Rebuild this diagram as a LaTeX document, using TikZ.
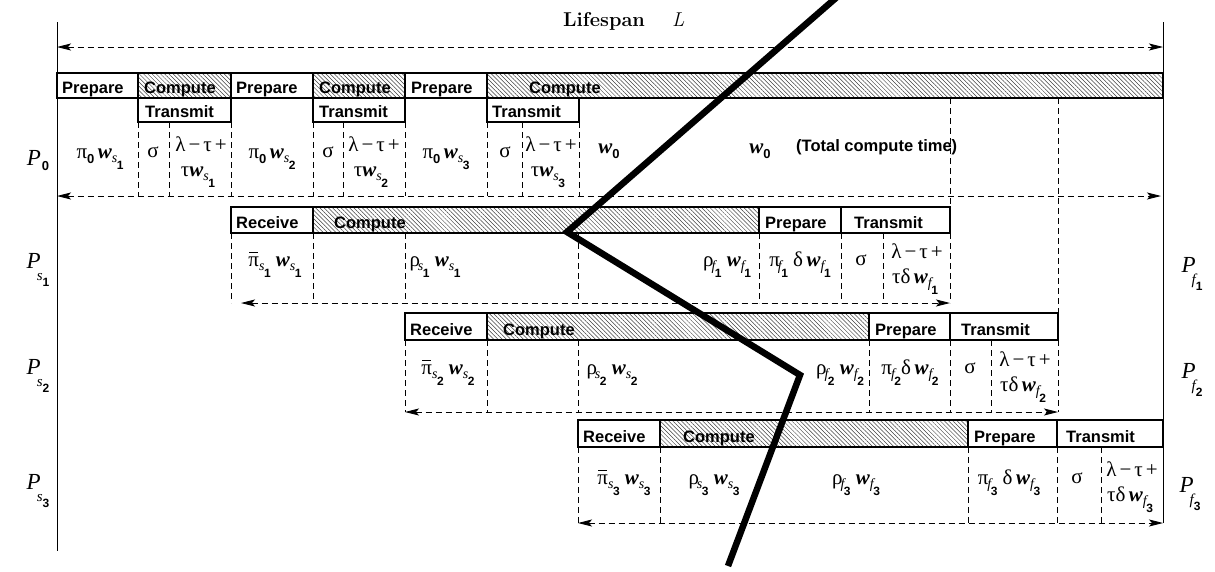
\documentclass[tikz,border=0pt]{standalone}
\usepackage{fontspec}
\usetikzlibrary{arrows.meta,patterns.meta}
\newfontfamily\hv{Liberation Sans}
\newfontfamily\tm{Liberation Serif}
\newcommand\W{{\bfseries\itshape w}}
\newcommand\Sb[2]{\raisebox{-4pt}{\fontsize{14}{14}\selectfont\itshape #1}\kern-0.5pt\raisebox{-11pt}{\fontsize{12}{12}\selectfont\hv\bfseries #2}}
\newcommand\Sz[1]{\raisebox{-5pt}{\fontsize{13}{13}\selectfont\hv\bfseries #1}}
\newcommand\pib{\leavevmode\rlap{\kern1pt\raisebox{13pt}{\rule{9pt}{0.9pt}}}π}
\newcommand\LT{λ\kern3pt−\kern3ptτ\kern3pt+}
\newcommand\PL[2]{\fontsize{23}{23}\selectfont\tm\itshape P\kern-4pt\raisebox{-12pt}{\fontsize{15}{15}\selectfont #1}\raisebox{-18pt}{\fontsize{12}{12}\selectfont\hv\upshape\bfseries #2}}
\tikzset{
  lbl/.style={font=\fontsize{16.5}{18}\selectfont\hv\bfseries, anchor=base west, inner sep=0pt},
  mth/.style={font=\fontsize{21}{23}\selectfont\tm, anchor=base, inner sep=0pt},
  bx/.style={draw, line width=1.8pt},
  hatch/.style={bx, pattern={Lines[angle=-45,distance=3pt,line width=0.5pt]}, pattern color=black!75},
  dsh/.style={dash pattern=on 6pt off 4pt, line width=0.9pt},
  dar/.style={dsh, {Stealth[length=14pt,width=7pt,inset=3pt]}-{Stealth[length=14pt,width=7pt,inset=3pt]}},
  zig/.style={line width=6.5pt, line join=miter},
  plab/.style={anchor=base, inner sep=0pt}
}
\begin{document}
\begin{tikzpicture}[x=1pt,y=-1pt]
\useasboundingbox (0,0) rectangle (1215,571);
% frame lines
\coordinate (Ltop) at (57,22); \coordinate (Lbot) at (57,551);
\coordinate (Rtop) at (1163,22); \coordinate (Rbot) at (1163,523);
\draw[line width=0.8pt] (Ltop) -- (Lbot);
\draw[line width=0.8pt] (Rtop) -- (Rbot);
% lifespan
\node[font=\fontsize{20}{22}\selectfont\bfseries, anchor=base west, inner sep=0pt] (life) at (563,26) {Lifespan};
\node[font=\fontsize{20}{22}\selectfont\itshape, anchor=base west, inner sep=0pt] (Ll) at (672,26) {L};
\coordinate (lsl) at (57,47); \coordinate (lsr) at (1163,47);
\draw[dar] (lsl) -- (lsr);

% ---------- P0 row ----------
\draw[bx] (57,73) rectangle (138,98);
\draw[hatch] (138,73) rectangle (231,98);
\draw[bx] (231,73) rectangle (313,98);
\draw[hatch] (313,73) rectangle (405,98);
\draw[bx] (405,73) rectangle (487,98);
\draw[hatch] (487,73) rectangle (1163,98);
\draw[bx] (138,98) rectangle (231,122);
\draw[bx] (313,98) rectangle (405,122);
\draw[bx] (487,98) rectangle (579,122);
\node[lbl] (p0a) at (62,93.5) {Prepare};
\node[lbl] (c0a) at (144,93.5) {Compute};
\node[lbl] (p0b) at (236,93.5) {Prepare};
\node[lbl] (c0b) at (319,93.5) {Compute};
\node[lbl] (p0c) at (411,93.5) {Prepare};
\node[lbl] (c0c) at (529,93.5) {Compute};
\node[lbl] (t0a) at (145,117.5) {Transmit};
\node[lbl] (t0b) at (319,117.5) {Transmit};
\node[lbl] (t0c) at (492,117.5) {Transmit};
\foreach \x in {138,169,231,313,343,405,487,522,579} \draw[dsh] (\x,122) -- (\x,196);
\draw[dsh] (950,98) -- (950,207);
\draw[dsh] (1058,98) -- (1058,313);
\coordinate (a0l) at (57,196); \coordinate (a0r) at (1161,196);
\draw[dar] (a0l) -- (a0r);
\node[mth] (e01) at (100,158) {π\Sz{0}\,\W\Sb{s}{1}};
\node[mth] (e02) at (153,157) {σ};
\node[mth] (e03) at (201,151) {\LT};
\node[mth] (e04) at (198,176) {τ\W\Sb{s}{1}};
\node[mth] (e05) at (272,158) {π\Sz{0}\,\W\Sb{s}{2}};
\node[mth] (e06) at (328,157) {σ};
\node[mth] (e07) at (374,151) {\LT};
\node[mth] (e08) at (371,176) {τ\W\Sb{s}{2}};
\node[mth] (e09) at (446,158) {π\Sz{0}\,\W\Sb{s}{3}};
\node[mth] (e10) at (505,157) {σ};
\node[mth] (e11) at (551,151) {\LT};
\node[mth] (e12) at (548,176) {τ\W\Sb{s}{3}};
\node[mth] (e13) at (609,153) {\W\Sz{0}};
\node[mth] (e14) at (760,153) {\W\Sz{0}};
\node[lbl] (tot) at (796,151) {(Total compute time)};
\node[plab] (P0) at (38,165) {\fontsize{23}{23}\selectfont\tm\itshape P\kern1pt\raisebox{-5pt}{\fontsize{13}{13}\selectfont\hv\upshape\bfseries 0}};

% ---------- Ps1 row ----------
\draw[bx] (231,207) rectangle (313,233);
\draw[hatch] (313,207) rectangle (759,233);
\draw[bx] (759,207) rectangle (841,233);
\draw[bx] (841,207) rectangle (950,233);
\node[lbl] (r1) at (236,228.5) {Receive};
\node[lbl] (c1) at (334,228.5) {Compute};
\node[lbl] (p1) at (765,228.5) {Prepare};
\node[lbl] (t1) at (854,228.5) {Transmit};
\foreach \x in {231,313,405,578,759,841,883,950} \draw[dsh] (\x,233) -- (\x,303);
\coordinate (a1l) at (241,303); \coordinate (a1r) at (950,303);
\draw[dar] (a1l) -- (a1r);
\node[mth] (e15) at (275,266) {\pib\Sb{s}{1}\ \W\Sb{s}{1}};
\node[mth] (e16) at (435,266) {ρ\kern-2pt\Sb{s}{1}\ \W\Sb{s}{1}};
\node[mth] (e17) at (727,266) {ρ\kern-2pt\Sb{f}{1}\ \W\Sb{f}{1}};
\node[mth] (e18) at (800,266) {π\kern-2pt\Sb{f}{1}\ δ\,\W\Sb{f}{1}};
\node[mth] (e19) at (861,265) {σ};
\node[mth] (e20) at (917,258) {\LT};
\node[mth] (e21) at (915,283) {τδ\,\W\Sb{f}{1}};
\node[plab] (Ps1) at (38,268) {\PL{s}{1}};
\node[plab] (Pf1) at (1192,272) {\PL{f}{1}};

% ---------- Ps2 row ----------
\draw[bx] (405,313) rectangle (487,340);
\draw[hatch] (487,313) rectangle (869,340);
\draw[bx] (869,313) rectangle (950,340);
\draw[bx] (950,313) rectangle (1058,340);
\node[lbl] (r2) at (410,335.5) {Receive};
\node[lbl] (c2) at (503,335.5) {Compute};
\node[lbl] (p2) at (875,335.5) {Prepare};
\node[lbl] (t2) at (961,335.5) {Transmit};
\foreach \x in {405,487,578,869,950,991,1058} \draw[dsh] (\x,340) -- (\x,412);
\coordinate (a2l) at (405,412); \coordinate (a2r) at (1058,412);
\draw[dar] (a2l) -- (a2r);
\node[mth] (e22) at (448,374) {\pib\Sb{s}{2}\ \W\Sb{s}{2}};
\node[mth] (e23) at (612,374) {ρ\kern-2pt\Sb{s}{2}\ \W\Sb{s}{2}};
\node[mth] (e24) at (840,374) {ρ\kern-2pt\Sb{f}{2}\ \W\Sb{f}{2}};
\node[mth] (e25) at (910,374) {π\kern-1pt\Sb{f}{2}δ\,\W\Sb{f}{2}};
\node[mth] (e26) at (970,373) {σ};
\node[mth] (e27) at (1025,366) {\LT};
\node[mth] (e28) at (1023,391) {τδ\,\W\Sb{f}{2}};
\node[plab] (Ps2) at (38,374) {\PL{s}{2}};
\node[plab] (Pf2) at (1192,378) {\PL{f}{2}};

% ---------- Ps3 row ----------
\draw[bx] (578,420) rectangle (660,447);
\draw[hatch] (660,420) rectangle (968,447);
\draw[bx] (968,420) rectangle (1057,447);
\draw[bx] (1057,420) rectangle (1163,447);
\node[lbl] (r3) at (583,442.5) {Receive};
\node[lbl] (c3) at (683,442.5) {Compute};
\node[lbl] (p3) at (974,442.5) {Prepare};
\node[lbl] (t3) at (1066,442.5) {Transmit};
\foreach \x in {578,660,968,1057,1101} \draw[dsh] (\x,447) -- (\x,523);
\coordinate (a3l) at (578,523); \coordinate (a3r) at (1163,523);
\draw[dar] (a3l) -- (a3r);
\node[mth] (e29) at (624,484) {\pib\Sb{s}{3}\ \W\Sb{s}{3}};
\node[mth] (e30) at (714,484) {ρ\kern-2pt\Sb{s}{3}\ \W\Sb{s}{3}};
\node[mth] (e31) at (856,484) {ρ\kern-2pt\Sb{f}{3}\ \W\Sb{f}{3}};
\node[mth] (e32) at (1009,484) {π\kern-1pt\Sb{f}{3}\ δ\,\W\Sb{f}{3}};
\node[mth] (e33) at (1077,483) {σ};
\node[mth] (e34) at (1132,476) {\LT};
\node[mth] (e35) at (1130,501) {τδ\,\W\Sb{f}{3}};
\node[plab] (Ps3) at (38,489) {\PL{s}{3}};
\node[plab] (Pf3) at (1190,492) {\PL{f}{3}};

% ---------- thick cut line ----------
\coordinate (z1) at (837,-3); \coordinate (z2) at (567,232);
\coordinate (z3) at (800,375); \coordinate (z4) at (728,566);
\draw[zig] (z1) -- (z2) -- (z3) -- (z4);
\end{tikzpicture}
\end{document}
